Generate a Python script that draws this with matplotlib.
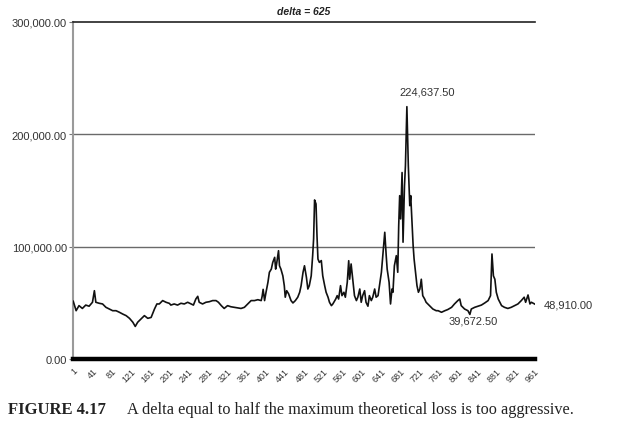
import matplotlib
matplotlib.use("Agg")
import matplotlib.pyplot as plt
from matplotlib.ticker import FuncFormatter

# ---- data ----
period = [1, 7, 13, 20, 27, 34, 41, 45, 48, 55, 62, 69, 76, 83, 90, 97, 104, 111, 118, 125,
          130, 135, 142, 149, 156, 163, 170, 175, 180, 187, 194, 201, 204, 211, 218, 225, 232, 239,
          246, 251, 256, 260, 263, 270, 277, 284, 291, 298, 303, 309, 315, 322, 329, 336, 343, 350,
          357, 364, 371, 378, 385, 392, 394, 396, 399, 402, 406, 409, 413, 416, 420, 422, 424, 428,
          430, 433, 437, 440, 442, 445, 449, 454, 458, 463, 468, 472, 475, 479, 482, 486, 489, 492,
          496, 499, 501, 503, 506, 508, 510, 513, 517, 520, 524, 527, 531, 534, 538, 541, 547, 550,
          553, 557, 560, 564, 567, 571, 574, 576, 579, 583, 586, 590, 593, 597, 600, 603, 607, 610,
          614, 617, 621, 624, 628, 631, 635, 638, 642, 645, 649, 652, 654, 658, 661, 664, 666, 669,
          673, 676, 678, 680, 682, 685, 687, 690, 692, 695, 698, 701, 703, 705, 708, 710, 713, 716,
          719, 722, 725, 728, 732, 735, 742, 749, 756, 760, 767, 774, 780, 788, 794, 801, 805, 808,
          815, 822, 826, 829, 836, 843, 850, 857, 864, 869, 872, 875, 878, 881, 885, 892, 898, 905,
          912, 919, 926, 933, 939, 942, 947, 951, 954, 961]
equity = [51400, 43000, 47500, 45000, 48000, 47000, 50500, 60800, 50500, 49600, 49000, 46000,
          44500, 43000, 43000, 41600, 40000, 38600, 36200, 32700, 29000, 32700, 35600, 38600,
          36200, 37000, 44500, 49000, 49000, 52000, 50500, 49500, 48000, 49000, 48000, 49600,
          49000, 50500, 49000, 48000, 53400, 55800, 50500, 49000, 50500, 51000, 52000, 52000,
          50500, 47500, 45000, 47500, 46500, 46000, 45500, 45000, 46000, 49000, 52000, 52000,
          52800, 52000, 56000, 62000, 52000, 59400, 68300, 77200, 80000, 86000, 90500, 80000,
          84600, 96400, 83000, 80000, 74000, 65300, 55000, 60800, 58000, 52000, 49900, 52000,
          55000, 59400, 65300, 77200, 83000, 72800, 62300, 65300, 74000, 92000, 107000, 141600,
          138000, 110000, 89000, 86000, 87600, 74000, 65300, 59400, 55000, 50500, 47500, 49000,
          53400, 56400, 53400, 65300, 56400, 59400, 55000, 68300, 87500, 71000, 84600, 68300,
          56400, 52000, 55000, 62300, 50500, 56400, 60800, 50500, 47000, 56400, 52000, 55000,
          62300, 55000, 56400, 65300, 77200, 92000, 112800, 92000, 80000, 68300, 49000, 62300,
          59400, 83000, 92000, 77200, 118700, 145400, 124700, 166000, 104000, 154000, 172000,
          224637.50, 172000, 136500, 145400, 127600, 101000, 89000, 77200, 65300, 59400, 62300,
          71000, 56400, 53400, 50500, 47500, 44500, 43000, 43000, 41600, 43000, 44000, 46000,
          49000, 52000, 53400, 47500, 44500, 43000, 39672.50, 44500, 46000, 47000, 48000, 49900,
          52000, 56400, 93500, 74000, 71000, 59400, 53400, 47500, 46000, 45000, 46000, 47500,
          49000, 52000, 55000, 50500, 57000, 49000, 50500, 48910.00]
tick_labels = list(range(1, 962, 40))
y_ticks = [0, 100000, 200000, 300000]
title = "delta = 625"
caption_bold = "FIGURE 4.17"
caption_text = "A delta equal to half the maximum theoretical loss is too aggressive."

# ---- figure ----
fig = plt.figure(figsize=(6.25, 4.27), dpi=100)
ax = fig.add_axes([73 / 625, 1 - 360 / 427, (535 - 73) / 625, (360 - 23) / 427])

ax.plot(period, equity, color="#111111", lw=1.2, zorder=3)

ax.set_xlim(0.5, 961.5)
ax.set_ylim(0, 300000)

# grid lines
for v in y_ticks[1:3]:
    ax.axhline(v, color="#6a6a6a", lw=1.0, zorder=1)
ax.spines["top"].set_color("#222222")
ax.spines["top"].set_linewidth(1.2)
ax.spines["right"].set_visible(False)
ax.spines["left"].set_color("#9a9a9a")
ax.spines["left"].set_linewidth(1.5)
ax.spines["bottom"].set_color("#000000")
ax.spines["bottom"].set_linewidth(3.2)

sans = ["Liberation Sans", "DejaVu Sans"]
ax.set_yticks(y_ticks)
ax.yaxis.set_major_formatter(FuncFormatter(lambda v, p: f"{v:,.2f}"))
ax.tick_params(axis="y", direction="out", length=3, width=0.8, color="#777777",
               labelsize=8, labelcolor="#333333", pad=1.5)
for t in ax.get_yticklabels():
    t.set_family(sans)

ax.set_xticks(tick_labels)
ax.set_xticklabels([str(t) for t in tick_labels], rotation=45, ha="right",
                   rotation_mode="anchor", fontsize=6.5, color="#333333", family=sans)
ax.tick_params(axis="x", length=0, pad=5)

ax.set_title(title, fontsize=7.5, fontweight="bold", fontstyle="italic",
             family=sans, color="#222222", pad=6)

# value labels
i_max = equity.index(max(equity))
ax.annotate(f"{equity[i_max]:,.2f}", (period[i_max], equity[i_max]),
            xytext=(14.4, 10.8), textcoords="offset points", ha="center", va="center",
            fontsize=8, color="#333333", family=sans)
i_min = equity.index(39672.50)
ax.annotate(f"{equity[i_min]:,.2f}", (period[i_min], equity[i_min]),
            xytext=(2.2, -4.5), textcoords="offset points", ha="center", va="center",
            fontsize=8, color="#333333", family=sans)
ax.annotate(f"{equity[-1]:,.2f}", (period[-1], equity[-1]),
            xytext=(6.5, 0), textcoords="offset points", ha="left", va="center",
            fontsize=8, color="#333333", family=sans, annotation_clip=False)

# caption
serif = ["Liberation Serif", "DejaVu Serif"]
fig.text(8 / 625, 1 - 410 / 427, caption_bold, fontsize=12, fontweight="bold",
         family=serif, color="#222222", va="center", ha="left")
fig.text(127 / 625, 1 - 410 / 427, caption_text, fontsize=11.7,
         family=serif, color="#222222", va="center", ha="left")

fig.savefig("out.png", dpi=100)
